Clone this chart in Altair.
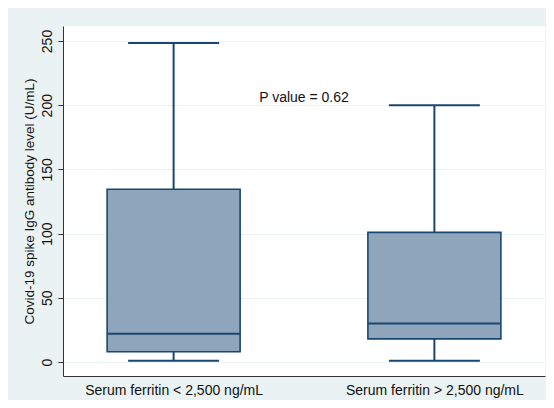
import altair as alt
import pandas as pd

categories = ["Serum ferritin < 2,500 ng/mL", "Serum ferritin > 2,500 ng/mL"]
positions = [0, 1]
lower = [1, 1]
q1 = [8, 18]
median = [22, 30]
q3 = [134.5, 101]
upper = [248.5, 200]
y_ticks = [0, 50, 100, 150, 200, 250]
annotation = "P value = 0.62"

df = pd.DataFrame({"pos": positions, "cat": categories, "lower": lower,
                   "q1": q1, "median": median, "q3": q3, "upper": upper})
ann = pd.DataFrame({"pos": [0.5], "y": [205.5], "label": [annotation]})

NAVY = "#1A476F"
FILL = "#8FA5BB"
FONT = "Liberation Sans"

label_expr = " : ".join(
    [f"datum.value == {p} ? '{c}'" for p, c in zip(positions[:-1], categories[:-1])]
    + [f"'{categories[-1]}'"]
)

xscale = alt.Scale(domain=[-0.405, 1.405], nice=False, zero=False)
yscale = alt.Scale(domain=[-10.9, 261.7], nice=False, zero=False)

x = alt.X("pos:Q", scale=xscale, title=None,
          axis=alt.Axis(values=positions, labelExpr=label_expr, grid=False,
                        ticks=False, labelPadding=7, labelFontSize=14,
                        labelFont=FONT, labelColor="#111", domainColor="#333",
                        domainWidth=1, labelFlush=False))
y_axis = alt.Axis(values=y_ticks, labelAngle=270, labelFontSize=14, labelFont=FONT,
                  labelColor="#111", tickSize=5, tickColor="#333", domainColor="#333",
                  labelPadding=4, grid=True, gridColor="#EAF2F3", gridWidth=1,
                  title="Covid-19 spike IgG antibody level (U/mL)",
                  titleFont=FONT, titleFontSize=13.5, titleFontWeight="normal",
                  titleColor="#111", titlePadding=4)

base = alt.Chart(df)
whisk = base.mark_rule(color=NAVY, strokeWidth=2).encode(
    x=x, y=alt.Y("lower:Q", scale=yscale, axis=y_axis), y2="upper:Q")
box = base.mark_bar(size=133, fill=FILL, stroke=NAVY, strokeWidth=1.6,
                    orient="vertical").encode(x=x, y="q1:Q", y2="q3:Q")
med = base.mark_tick(size=133, thickness=2, color=NAVY, orient="horizontal",
                     opacity=1).encode(x=x, y="median:Q")
cap_lo = base.mark_tick(size=91, thickness=2, color=NAVY, orient="horizontal",
                        opacity=1).encode(x=x, y="lower:Q")
cap_hi = base.mark_tick(size=91, thickness=2, color=NAVY, orient="horizontal",
                        opacity=1).encode(x=x, y="upper:Q")
txt = alt.Chart(ann).mark_text(font=FONT, fontSize=14, color="#111",
                               baseline="middle", align="center").encode(
    x=alt.X("pos:Q", scale=xscale), y=alt.Y("y:Q", scale=yscale), text="label:N")

chart = alt.layer(whisk, box, med, cap_lo, cap_hi, txt).properties(
    width=482, height=350,
    background="#EAF2F3",
    padding={"left": 55, "top": 18, "right": 1, "bottom": 24},
    autosize=alt.AutoSizeParams(type="none"),
).configure_view(fill="white", stroke=None)

chart.save("out.html", embed_options={"renderer": "svg", "actions": False})
